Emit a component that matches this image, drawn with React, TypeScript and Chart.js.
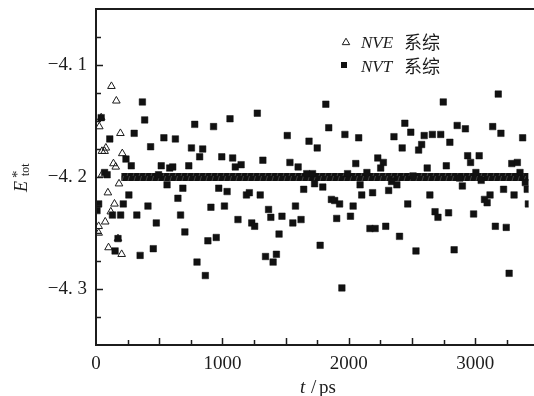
import React, { useEffect, useRef } from "react";
import { Chart, registerables } from "chart.js";

Chart.register(...registerables);

// ---- data ----
const nveT = [122, 161, 26, 41, 193, 78, 47, 68, 208, 138, 156, 47, 182, 94, 146, 117, 73, 21, 21, 174, 99, 203];
const nveE = [-4.119, -4.132, -4.155, -4.147, -4.161, -4.174, -4.177, -4.177, -4.179, -4.188, -4.191, -4.198, -4.206, -4.214, -4.224, -4.231, -4.24, -4.244, -4.25, -4.255, -4.263, -4.269];

const nvtT = [
  367, 41, 385, 302, 109, 537, 628, 432, 237, 279, 516, 583, 607, 68, 88, 495, 562, 687, 260, 648, 21, 216, 411, 8, 130, 195, 323, 669, 477, 703, 174, 453, 151, 349,
  1276, 1060, 781, 930, 755, 844, 820, 995, 1081, 1320, 734, 1102, 1148, 971, 1037, 1190, 1213, 1299, 909, 1016, 1365, 1383, 1123, 1232, 1255, 951, 885, 1341, 1401, 799, 865,
  1818, 1841, 1513, 1969, 2078, 1685, 1750, 1534, 1599, 2055, 1667, 1713, 1990, 1729, 1794, 1643, 2089, 1862, 1888, 1927, 2034, 2102, 1578, 1471, 1622, 1557, 1904, 2013, 1448, 1773, 1427, 1945,
  2747, 2443, 2490, 2357, 2596, 2661, 2727, 2799, 2576, 2422, 2552, 2229, 2273, 2252, 2620, 2771, 2143, 2508, 2338, 2380, 2188, 2315, 2641, 2466, 2682, 2705, 2789, 2167, 2208, 2292, 2401, 2531,
  3182, 2857, 2922, 3138, 3203, 3375, 2940, 3031, 2963, 3289, 3333, 3005, 3354, 2877, 3047, 3396, 3411, 2898, 3224, 3307, 3117, 3073, 3094, 3420, 2987, 3159, 3245, 2833, 3268,
];
const nvtE = [
  -4.133, -4.147, -4.149, -4.161, -4.166, -4.165, -4.166, -4.173, -4.184, -4.19, -4.19, -4.192, -4.191, -4.196, -4.198, -4.198, -4.207, -4.21, -4.216, -4.219, -4.224, -4.224, -4.226, -4.23, -4.234, -4.234, -4.234, -4.234, -4.241, -4.249, -4.255, -4.264, -4.266, -4.27,
  -4.143, -4.148, -4.153, -4.155, -4.174, -4.175, -4.182, -4.182, -4.183, -4.185, -4.19, -4.191, -4.189, -4.21, -4.213, -4.216, -4.214, -4.216, -4.227, -4.226, -4.229, -4.236, -4.238, -4.241, -4.244, -4.254, -4.257, -4.271, -4.276, -4.276, -4.288,
  -4.135, -4.156, -4.163, -4.162, -4.165, -4.168, -4.174, -4.187, -4.191, -4.188, -4.197, -4.197, -4.197, -4.206, -4.209, -4.211, -4.207, -4.22, -4.221, -4.224, -4.226, -4.216, -4.226, -4.235, -4.238, -4.241, -4.237, -4.235, -4.251, -4.261, -4.269, -4.299,
  -4.133, -4.152, -4.16, -4.164, -4.163, -4.162, -4.162, -4.169, -4.171, -4.174, -4.176, -4.183, -4.187, -4.192, -4.192, -4.19, -4.196, -4.199, -4.204, -4.207, -4.214, -4.212, -4.216, -4.224, -4.231, -4.236, -4.232, -4.246, -4.246, -4.244, -4.253, -4.266,
  -4.126, -4.154, -4.157, -4.155, -4.161, -4.165, -4.181, -4.181, -4.187, -4.188, -4.187, -4.196, -4.196, -4.201, -4.203, -4.205, -4.211, -4.208, -4.211, -4.216, -4.216, -4.22, -4.223, -4.224, -4.233, -4.244, -4.245, -4.265, -4.286,
];

// dense NVT band after equilibration
const bandT = [200, 3422];
const bandE = [-4.2, -4.2];

const xMin = 0;
const xMax = 3422;
const yMin = -4.35;
const yMax = -4.05;
const xTickValues = [0, 1000, 2000, 3000];
const yTickValues = [-4.3, -4.2, -4.1];

const legendLabels = ["NVE", "NVT"];
const legendSuffix = "系综";

const SERIF = '"Liberation Serif", "DejaVu Serif", serif';
const CJK = '"Noto Sans CJK SC", sans-serif';
const INK = "#1c1c1c";

function fmtY(v: number) {
  const s = Math.abs(v).toFixed(1).replace(".", ". ");
  return (v < 0 ? "\u2212" : "") + s;
}

function triPath(ctx: CanvasRenderingContext2D, x: number, y: number, r: number) {
  const h = (Math.sqrt(3) / 2) * r;
  ctx.beginPath();
  ctx.moveTo(x, y - r);
  ctx.lineTo(x + h, y + r / 2);
  ctx.lineTo(x - h, y + r / 2);
  ctx.closePath();
}

const framePlugin = {
  id: "frame",
  afterDatasetsDraw(chart: any) {
    const { ctx, chartArea } = chart;
    const { left, top, bottom } = chartArea;
    const xs = chart.scales.x;
    const ys = chart.scales.y;
    const W = chart.width;
    ctx.save();
    ctx.strokeStyle = INK;
    ctx.lineWidth = 2;
    ctx.beginPath();
    ctx.moveTo(left, top);
    ctx.lineTo(W, top);
    ctx.moveTo(left, top - 1);
    ctx.lineTo(left, bottom + 1);
    ctx.moveTo(left - 1, bottom);
    ctx.lineTo(W, bottom);
    ctx.stroke();

    ctx.lineWidth = 1.5;
    ctx.beginPath();
    for (let k = 1; k * 250 <= xMax; k++) {
      const v = k * 250;
      const px = Math.round(xs.getPixelForValue(v)) + 0.5;
      const len = k % 2 === 0 ? 7 : 5;
      ctx.moveTo(px, bottom);
      ctx.lineTo(px, bottom - len);
    }
    for (let k = 1; k < 12; k++) {
      const v = yMin + k * 0.025;
      const py = Math.round(ys.getPixelForValue(v)) + 0.5;
      const major = Math.abs(v * 10 - Math.round(v * 10)) < 1e-6;
      const len = major ? 7 : 5;
      ctx.moveTo(left, py);
      ctx.lineTo(left + len, py);
    }
    ctx.stroke();

    // y title  E*_tot
    ctx.fillStyle = INK;
    ctx.save();
    ctx.translate(27, 192);
    ctx.rotate(-Math.PI / 2);
    ctx.textAlign = "left";
    ctx.textBaseline = "alphabetic";
    ctx.font = "italic 18px " + SERIF;
    ctx.fillText("E", 0, 0);
    const ew = ctx.measureText("E").width;
    ctx.font = "15px " + SERIF;
    ctx.fillText("*", ew + 3, -5);
    ctx.font = "12px " + SERIF;
    ctx.fillText("tot", ew + 5, 2);
    ctx.restore();

    // x title  t / ps
    ctx.textAlign = "left";
    ctx.textBaseline = "alphabetic";
    ctx.font = "italic 19px " + SERIF;
    ctx.fillText("t", 300, 393);
    ctx.font = "19px " + SERIF;
    ctx.fillText("/", 311, 393);
    ctx.fillText("ps", 319, 393);

    // legend
    ctx.strokeStyle = INK;
    ctx.lineWidth = 1;
    triPath(ctx, 346, 42.5, 4.3);
    ctx.fillStyle = "#fff";
    ctx.fill();
    ctx.stroke();
    ctx.fillStyle = "#111";
    ctx.fillRect(341, 62, 6, 6);
    ctx.fillStyle = INK;
    const rows = [48, 72];
    legendLabels.forEach((lab, i) => {
      ctx.font = "italic 17px " + SERIF;
      ctx.fillText(lab, 361, rows[i]);
      ctx.font = "18px " + CJK;
      ctx.fillText(legendSuffix, 404, rows[i] + 1);
    });
    ctx.restore();
  },
};

export default function App() {
  const ref = useRef<HTMLCanvasElement>(null);
  useEffect(() => {
    document.body.style.margin = "0";
    const canvas = ref.current;
    if (!canvas) return;
    const ctx = canvas.getContext("2d")!;

    const pc = document.createElement("canvas");
    pc.width = 6;
    pc.height = 8;
    const p = pc.getContext("2d")!;
    p.fillStyle = "#111";
    p.fillRect(0, 0, 6, 8);
    p.strokeStyle = "rgba(110,110,110,0.7)";
    p.lineWidth = 0.8;
    p.beginPath();
    p.moveTo(1, 8);
    p.lineTo(3.5, 0);
    p.stroke();
    const pattern = ctx.createPattern(pc, "repeat")!;

    const tickFont = { family: SERIF, size: 19 };

    const chart = new Chart(ctx, {
      type: "scatter",
      data: {
        datasets: [
          {
            label: "NVT",
            data: nvtT.map((t, i) => ({ x: t, y: nvtE[i] })),
            pointStyle: "rect",
            pointRadius: 4.6,
            backgroundColor: "#111",
            borderColor: "#111",
            borderWidth: 0.5,
          },
          {
            label: "NVE",
            data: nveT.map((t, i) => ({ x: t, y: nveE[i] })),
            pointStyle: "triangle",
            pointRadius: 4.4,
            backgroundColor: "rgba(255,255,255,0)",
            borderColor: INK,
            borderWidth: 1,
          },
          {
            type: "line",
            label: "band",
            data: bandT.map((t, i) => ({ x: t, y: bandE[i] })),
            borderColor: pattern as any,
            borderWidth: 8,
            borderCapStyle: "butt",
            pointRadius: 0,
            showLine: true,
            fill: false,
          } as any,
        ],
      },
      options: {
        responsive: false,
        animation: false,
        events: [],
        layout: { padding: { top: 9, right: 0, left: 0, bottom: 0 } },
        plugins: { legend: { display: false }, tooltip: { enabled: false } },
        scales: {
          x: {
            type: "linear",
            min: xMin,
            max: xMax,
            afterBuildTicks: (s: any) => {
              s.ticks = xTickValues.map((v) => ({ value: v }));
            },
            afterFit: (s: any) => {
              s.height = 51;
              s.paddingLeft = 0;
              s.paddingRight = 0;
            },
            grid: { display: false, drawTicks: false },
            border: { display: false },
            ticks: {
              font: tickFont,
              color: INK,
              padding: 8,
              maxRotation: 0,
              autoSkip: false,
              callback: (v: any) => String(v),
            },
          },
          y: {
            type: "linear",
            min: yMin,
            max: yMax,
            afterBuildTicks: (s: any) => {
              s.ticks = yTickValues.map((v) => ({ value: v }));
            },
            afterFit: (s: any) => {
              s.width = 96;
              s.paddingTop = 0;
              s.paddingBottom = 0;
            },
            grid: { display: false, drawTicks: false },
            border: { display: false },
            ticks: {
              font: tickFont,
              color: INK,
              padding: 9,
              autoSkip: false,
              callback: (v: any) => fmtY(Number(v)),
            },
          },
        },
      },
      plugins: [framePlugin],
    });
    return () => chart.destroy();
  }, []);
  return (
    <div style={{ width: 534, height: 396 }}>
      <canvas ref={ref} width={534} height={396} style={{ display: "block" }} />
    </div>
  );
}
